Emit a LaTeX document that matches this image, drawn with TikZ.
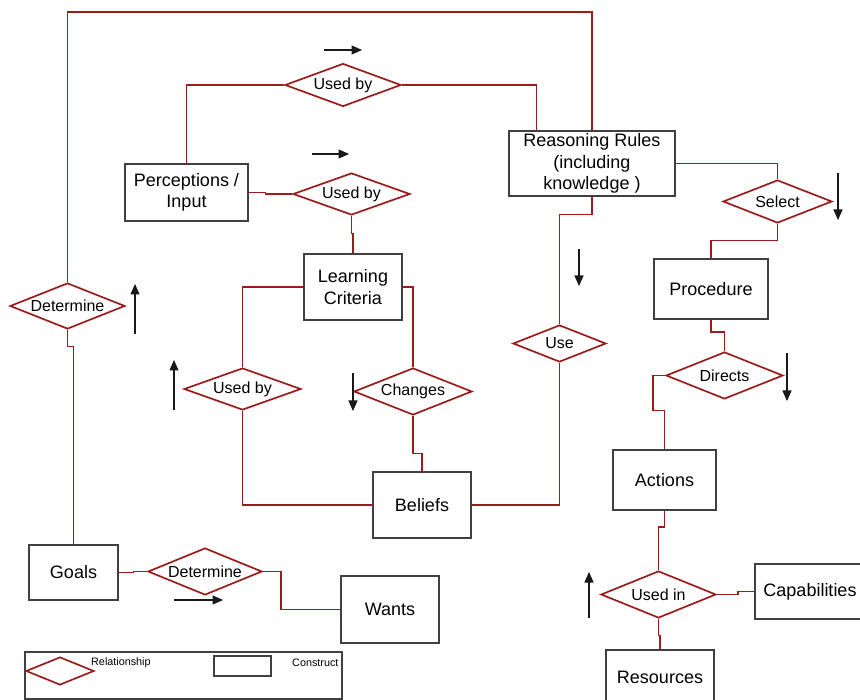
\documentclass[tikz,border=0pt]{standalone}
\usepackage{fontspec}
\setmainfont{Liberation Sans}
\usetikzlibrary{shapes.geometric,arrows.meta,calc}
\definecolor{relred}{RGB}{155,28,28}
\definecolor{boxgray}{RGB}{64,64,64}
\begin{document}
\begin{tikzpicture}[x=1pt,y=-1pt,
  box/.style={draw=boxgray,line width=1.1pt,fill=white,inner sep=0pt,align=center,font=\fontsize{18}{21.5}\selectfont},
  rel/.style={draw=relred,line width=1.7pt,shape=diamond,inner sep=0pt,fill=white},
  reltext/.style={font=\fontsize{16}{19}\selectfont,inner sep=0pt},
  conn/.style={draw=relred,line width=1.7pt},
  ind/.style={draw=black!90,line width=1.1pt,-{Triangle[length=10.5pt,width=9pt]}},
  legtext/.style={anchor=west,font=\fontsize{10.8}{12}\selectfont,inner sep=0pt}
]
\useasboundingbox (0,0) rectangle (860,700);
\clip (0,0) rectangle (860,700);

% constructs
\node[box,minimum width=123pt,minimum height=57pt] (pi) at (186.5,192.5) {Perceptions /\\Input};
\node[box,minimum width=98pt,minimum height=66pt] (lc) at (353,287) {Learning\\Criteria};
\node[box,minimum width=166pt,minimum height=65pt] (rr) at (592,163.5) {Reasoning Rules\\(including\\knowledge )};
\node[box,minimum width=114pt,minimum height=60pt] (pr) at (711,289) {Procedure};
\node[box,minimum width=98pt,minimum height=66pt] (be) at (422,505) {Beliefs};
\node[box,minimum width=89pt,minimum height=55pt] (go) at (73.5,572.5) {Goals};
\node[box,minimum width=98pt,minimum height=67pt] (wa) at (390,609.5) {Wants};
\node[box,minimum width=103pt,minimum height=60pt] (ac) at (664.5,480) {Actions};
\node[box,minimum width=110pt,minimum height=55pt] (ca) at (810,591.5) {Capabilities};
\node[box,minimum width=108pt,minimum height=54pt] (rs) at (660,677) {Resources};

% relationships
\node[rel,minimum width=116pt,minimum height=43pt,label={[reltext]center:Used by}] (d1) at (343,85) {};
\node[rel,minimum width=117pt,minimum height=42pt,label={[reltext]center:Used by}] (d2) at (351.5,194) {};
\node[rel,minimum width=115pt,minimum height=46pt,label={[reltext]center:Determine}] (d3) at (67.5,306) {};
\node[rel,minimum width=117pt,minimum height=42pt,label={[reltext]center:Used by}] (d4) at (242.5,389) {};
\node[rel,minimum width=118pt,minimum height=47pt,label={[reltext]center:Changes}] (d5) at (413,391.5) {};
\node[rel,minimum width=93pt,minimum height=37pt,label={[reltext]center:Use}] (d6) at (559.5,343.5) {};
\node[rel,minimum width=109pt,minimum height=43pt,label={[reltext]center:Select}] (d7) at (777.5,201.5) {};
\node[rel,minimum width=117pt,minimum height=47pt,label={[reltext]center:Directs}] (d8) at (724.5,375.5) {};
\node[rel,minimum width=114pt,minimum height=47pt,label={[reltext]center:Determine}] (d9) at (205,571.5) {};
\node[rel,minimum width=115pt,minimum height=47pt,label={[reltext]center:Used in}] (d10) at (658.5,594.5) {};

% connectors
\coordinate (topline) at (0,12);
\draw[conn] (d3.north) |- (rr.north |- topline) -- (rr.north);
\draw[conn] (pi.north) |- (d1.west);
\draw[conn] (d1.east) -| ($(rr.north west)+(28,0)$);
\draw[conn] (pi.east) -- ++(17,0) |- (d2.west);
\draw[conn] (d2.south) |- ($(lc.north)+(0,-20)$) -- (lc.north);
\draw[conn] (lc.west) -| (d4.north);
\draw[conn] (d4.south) |- (be.west);
\draw[conn] (lc.east) -| (d5.north);
\draw[conn] (d5.south) |- ($(be.north)+(0,-18)$) -- (be.north);
\draw[conn] (be.east) -| (d6.south);
\draw[conn] (d6.north) |- ($(rr.south)+(0,18)$) -- (rr.south);
\draw[conn] (rr.east) -| (d7.north);
\draw[conn] (d7.south) |- ($(pr.north)+(0,-18)$) -- (pr.north);
\draw[conn] (pr.south) |- ($(d8.north)+(0,-19)$) -- (d8.north);
\draw[conn] (d8.west) -- ++(-12,0) |- ($(ac.north)+(0,-39)$) -- (ac.north);
\draw[conn] (ac.south) |- ($(d10.north)+(0,-43)$) -- (d10.north);
\draw[conn] (d10.south) |- ($(rs.north)+(0,-14)$) -- (rs.north);
\draw[conn] (d10.east) -- ++(21,0) |- (ca.west);
\draw[conn] (d3.south) |- ($(go.north)+(0,-198)$) -- (go.north);
\draw[conn] (go.east) -- ++(15,0) |- (d9.west);
\draw[conn] (d9.east) -- ++(18,0) |- (wa.west);

% direction indicators
\draw[ind] (324,50) -- (362,50);
\draw[ind] (312,154) -- (349,154);
\draw[ind] (135,334) -- (135,284);
\draw[ind] (174,410) -- (174,360);
\draw[ind] (353,373) -- (353,411);
\draw[ind] (579,249) -- (579,286);
\draw[ind] (838,173) -- (838,220);
\draw[ind] (787,353) -- (787,401);
\draw[ind] (589,618) -- (589,572);
\draw[ind] (174,600) -- (223,600);

% legend
\node[draw=boxgray,line width=1.1pt,minimum width=317pt,minimum height=47pt,inner sep=0pt] (lg) at (183.5,675.5) {};
\node[rel,minimum width=68pt,minimum height=28pt] (lgd) at (60,671) {};
\node[draw=boxgray,line width=1.1pt,minimum width=57pt,minimum height=20pt,inner sep=0pt] (lgr) at (242.5,666) {};
\node[legtext] (lgt1) at (91,663) {Relationship};
\node[legtext] (lgt2) at (292,663) {Construct};
\end{tikzpicture}
\end{document}
